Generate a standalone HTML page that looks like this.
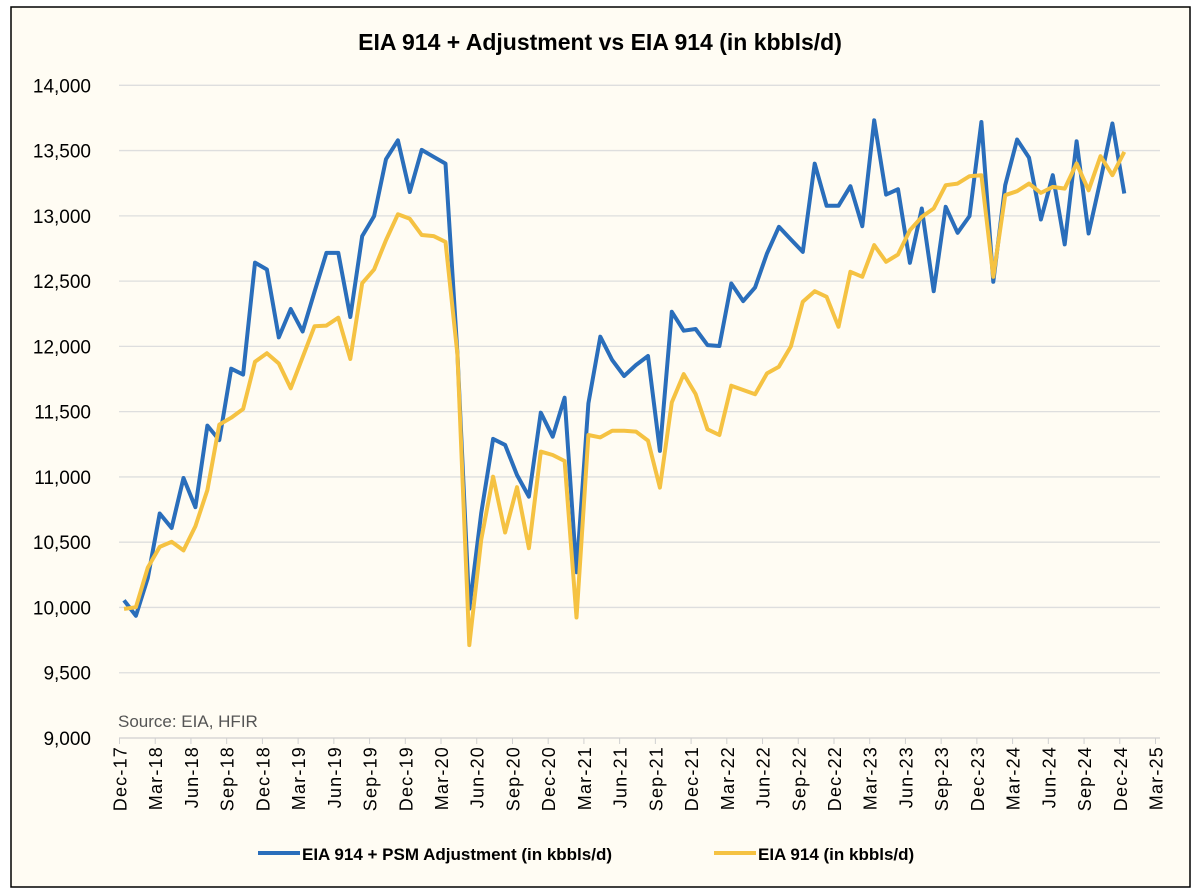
<!DOCTYPE html>
<html><head><meta charset="utf-8">
<style>
html,body{margin:0;padding:0;background:#fff;}
svg{display:block;font-family:"Liberation Sans",sans-serif;}
</style></head>
<body>
<svg id="chart" width="1200" height="895" viewBox="0 0 1200 895">
<rect x="11" y="7" width="1179" height="880" fill="#fffcf3" stroke="#000" stroke-width="1.5"/>
<text x="600" y="50" text-anchor="middle" font-size="23" font-weight="bold" fill="#000">EIA 914 + Adjustment vs EIA 914 (in kbbls/d)</text>
<g id="grid"></g>
<g id="yticks"></g>
<g id="xaxis"></g>
<text x="118" y="727" font-size="17" fill="#555">Source: EIA, HFIR</text>
<g id="series"></g>
<g>
<g>
<line x1="258" y1="853" x2="300" y2="853" stroke="#2a6ebb" stroke-width="4"/>
<text x="302" y="860" font-size="17" font-weight="bold" fill="#000">EIA 914 + PSM Adjustment (in kbbls/d)</text>
</g>
<g>
<line x1="714" y1="853" x2="756" y2="853" stroke="#f5c242" stroke-width="4"/>
<text x="758" y="860" font-size="17" font-weight="bold" fill="#000">EIA 914 (in kbbls/d)</text>
</g>
</g>
</svg>
<script>
const yTicks = [9000, 9500, 10000, 10500, 11000, 11500, 12000, 12500, 13000, 13500, 14000];
const xTickLabels = ["Dec-17","Mar-18","Jun-18","Sep-18","Dec-18","Mar-19","Jun-19","Sep-19","Dec-19","Mar-20","Jun-20","Sep-20","Dec-20","Mar-21","Jun-21","Sep-21","Dec-21","Mar-22","Jun-22","Sep-22","Dec-22","Mar-23","Jun-23","Sep-23","Dec-23","Mar-24","Jun-24","Sep-24","Dec-24","Mar-25"];
const adjusted = [10055,9936,10226,10720,10609,10992,10768,11393,11282,11829,11784,12642,12589,12069,12286,12114,12418,12716,12716,12225,12845,12998,13434,13579,13183,13505,13452,13400,11950,9990,10722,11291,11245,11015,10849,11492,11308,11607,10270,11564,12074,11895,11773,11857,11926,11199,12265,12120,12133,12010,12003,12482,12347,12452,12712,12916,12819,12724,13400,13077,13077,13227,12921,13732,13163,13204,12640,13056,12423,13069,12870,12998,13719,12495,13235,13584,13446,12972,13311,12781,13571,12865,13273,13707,13171];
const eia914 = [9989,10002,10305,10464,10503,10437,10622,10900,11401,11454,11520,11882,11948,11869,11679,11916,12154,12159,12220,11903,12484,12589,12814,13012,12977,12853,12845,12800,11942,9712,10518,11002,10574,10921,10454,11194,11168,11122,9923,11321,11303,11354,11354,11347,11278,10918,11571,11788,11635,11365,11321,11699,11666,11633,11793,11844,12000,12342,12423,12380,12150,12571,12533,12776,12648,12704,12890,12992,13056,13235,13247,13304,13311,12533,13158,13189,13247,13176,13222,13209,13401,13196,13457,13311,13490];

const NS = "http://www.w3.org/2000/svg";
const plotL = 119, plotR = 1160, yTop = 85.3, yBot = 738;
function yScale(v){ return yBot - (v - 9000) / 5000 * (yBot - yTop); }
const monthPx = (1155.5 - 119.5) / 87;
function xScale(i){ return 124 + i * monthPx; }
function tickX(q){ return 119.5 + q * 3 * monthPx; }

const grid = document.getElementById('grid');
const yt = document.getElementById('yticks');
yTicks.forEach(v => {
  const y = yScale(v);
  if (v !== 9000) {
    const l = document.createElementNS(NS, 'line');
    l.setAttribute('x1', plotL); l.setAttribute('x2', plotR);
    l.setAttribute('y1', y); l.setAttribute('y2', y);
    l.setAttribute('stroke', '#dedede'); l.setAttribute('stroke-width', '1.3');
    
    
    grid.appendChild(l);
  }
  const t = document.createElementNS(NS, 'text');
  t.setAttribute('x', 91); t.setAttribute('y', y + 7);
  t.setAttribute('text-anchor', 'end'); t.setAttribute('font-size', '19');
  t.textContent = v.toLocaleString('en-US');
  
  
  yt.appendChild(t);
});

const xa = document.getElementById('xaxis');
const axisLine = document.createElementNS(NS, 'line');
axisLine.setAttribute('x1', plotL); axisLine.setAttribute('x2', plotR);
axisLine.setAttribute('y1', yBot); axisLine.setAttribute('y2', yBot);
axisLine.setAttribute('stroke', '#d0d0d0'); axisLine.setAttribute('stroke-width', '1.3');


xa.appendChild(axisLine);
xTickLabels.forEach((lab, q) => {
  const x = tickX(q);
  const tk = document.createElementNS(NS, 'line');
  tk.setAttribute('x1', x); tk.setAttribute('x2', x);
  tk.setAttribute('y1', yBot); tk.setAttribute('y2', yBot + 6);
  tk.setAttribute('stroke', '#d0d0d0');
  
  
  xa.appendChild(tk);
  const t = document.createElementNS(NS, 'text');
  t.setAttribute('transform', `translate(${x + 7},${yBot + 8}) rotate(-90)`);
  t.setAttribute('text-anchor', 'end'); t.setAttribute('font-size', '18');
  t.setAttribute('letter-spacing', '1.2');
  t.textContent = lab;
  
  
  xa.appendChild(t);
});

const sg = document.getElementById('series');
function drawLine(vals, color, name){
  const p = document.createElementNS(NS, 'polyline');
  p.setAttribute('points', vals.map((v, i) => xScale(i).toFixed(1) + ',' + yScale(v).toFixed(1)).join(' '));
  p.setAttribute('fill', 'none'); p.setAttribute('stroke', color);
  p.setAttribute('stroke-width', '4'); p.setAttribute('stroke-linejoin', 'round');
  
  
  sg.appendChild(p);
}
drawLine(adjusted, '#2a6ebb', 'line-eia914-psm-adjustment');
drawLine(eia914, '#f5c242', 'line-eia914');
</script>
</body></html>
